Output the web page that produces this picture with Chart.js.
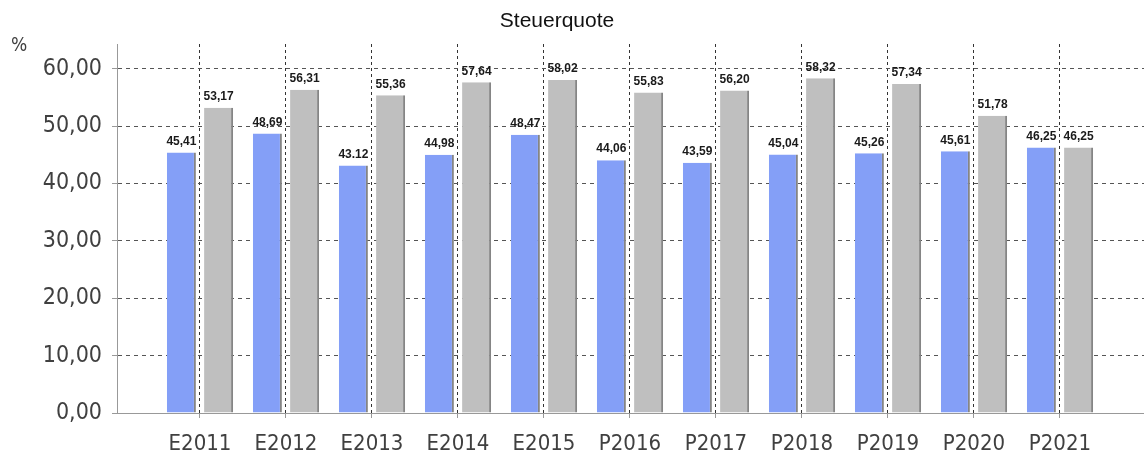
<!DOCTYPE html>
<html>
<head>
<meta charset="utf-8">
<script src="https://cdn.jsdelivr.net/npm/chart.js@4"></script>
<style>
body{margin:0;background:#fff;}
canvas{display:block;}
</style>
</head>
<body>
<canvas id="chart" width="1144" height="454"></canvas>
<script>
const categories = ["E2011","E2012","E2013","E2014","E2015","P2016","P2017","P2018","P2019","P2020","P2021"];
const blueValues = [45.41,48.69,43.12,44.98,48.47,44.06,43.59,45.04,45.26,45.61,46.25];
const grayValues = [53.17,56.31,55.36,57.64,58.02,55.83,56.20,58.32,57.34,51.78,46.25];
const yTicks = [0,10,20,30,40,50,60];
const labelOverride = {0:{2:"43.12"}};

const axisFont = "'DejaVu Sans Condensed','DejaVu Sans',sans-serif";

function fmt(v){
return v.toFixed(2).replace(".",",");
}

const textPlugin = {
id:"texts",
afterDraw(chart){
const ctx = chart.ctx;
ctx.save();
ctx.fillStyle = "#111";
ctx.font = "21px 'Liberation Sans',Arial,sans-serif";
ctx.textAlign = "center";
ctx.textBaseline = "middle";
ctx.fillText("Steuerquote", 557, 21);
ctx.fillStyle = "#404040";
ctx.font = "19px 'DejaVu Sans Condensed',sans-serif";
ctx.textAlign = "left";
ctx.fillText("%", 11, 46);
ctx.restore();
},
afterDatasetsDraw(chart){
const ctx = chart.ctx;
ctx.save();
ctx.fillStyle = "#1a1a1a";
ctx.font = "bold 12px 'Liberation Sans',Arial,sans-serif";
ctx.textAlign = "center";
ctx.textBaseline = "bottom";
chart.data.datasets.forEach((ds,di)=>{
chart.getDatasetMeta(di).data.forEach((bar,i)=>{
let t = (labelOverride[di] && labelOverride[di][i]) || fmt(ds.data[i].y);
ctx.fillText(t, bar.x, bar.y - 5);
});
});
ctx.restore();
}
};

function pts(vals){
return vals.map((v,i)=>({x:i,y:v}));
}

new Chart(document.getElementById("chart"),{
type:"bar",
data:{
datasets:[
{data:pts(blueValues),backgroundColor:"#849ff7",borderColor:"#858585",borderWidth:{right:2,left:0,top:0,bottom:0},borderSkipped:false},
{data:pts(grayValues),backgroundColor:"#bfbfbf",borderColor:"#858585",borderWidth:{right:2,left:0,top:0,bottom:0},borderSkipped:false}
]
},
options:{
responsive:false,
animation:false,
layout:{padding:{top:44,left:0,right:0,bottom:0}},
categoryPercentage:0.865,
barPercentage:0.78,
plugins:{legend:{display:false},tooltip:{enabled:false}},
scales:{
x:{
type:"linear",
offset:false,
min:-0.965,
max:10.977,
afterBuildTicks:s=>{s.ticks = categories.map((c,i)=>({value:i}));},
ticks:{autoSkip:false,maxRotation:0,color:"#404040",font:{family:axisFont,size:22},padding:13,
callback:v=>categories[v] ?? ""},
grid:{offset:false,color:"#333",lineWidth:1,tickLength:5,tickColor:"#999",tickBorderDash:[],drawTicks:true},
border:{display:true,color:"#999",dash:[3,3]},
afterFit:s=>{s.height=41;}
},
y:{
min:0,
max:64.3,
afterBuildTicks:s=>{s.ticks = yTicks.map(v=>({value:v}));},
ticks:{color:"#404040",font:{family:axisFont,size:23},padding:10,callback:v=>fmt(v)},
grid:{color:"#555",lineWidth:1,tickLength:5,tickColor:"#999",tickBorderDash:[]},
border:{display:true,color:"#999",dash:[4,4]},
afterFit:s=>{s.width=117;}
}
}
},
plugins:[textPlugin]
});
</script>
</body>
</html>
